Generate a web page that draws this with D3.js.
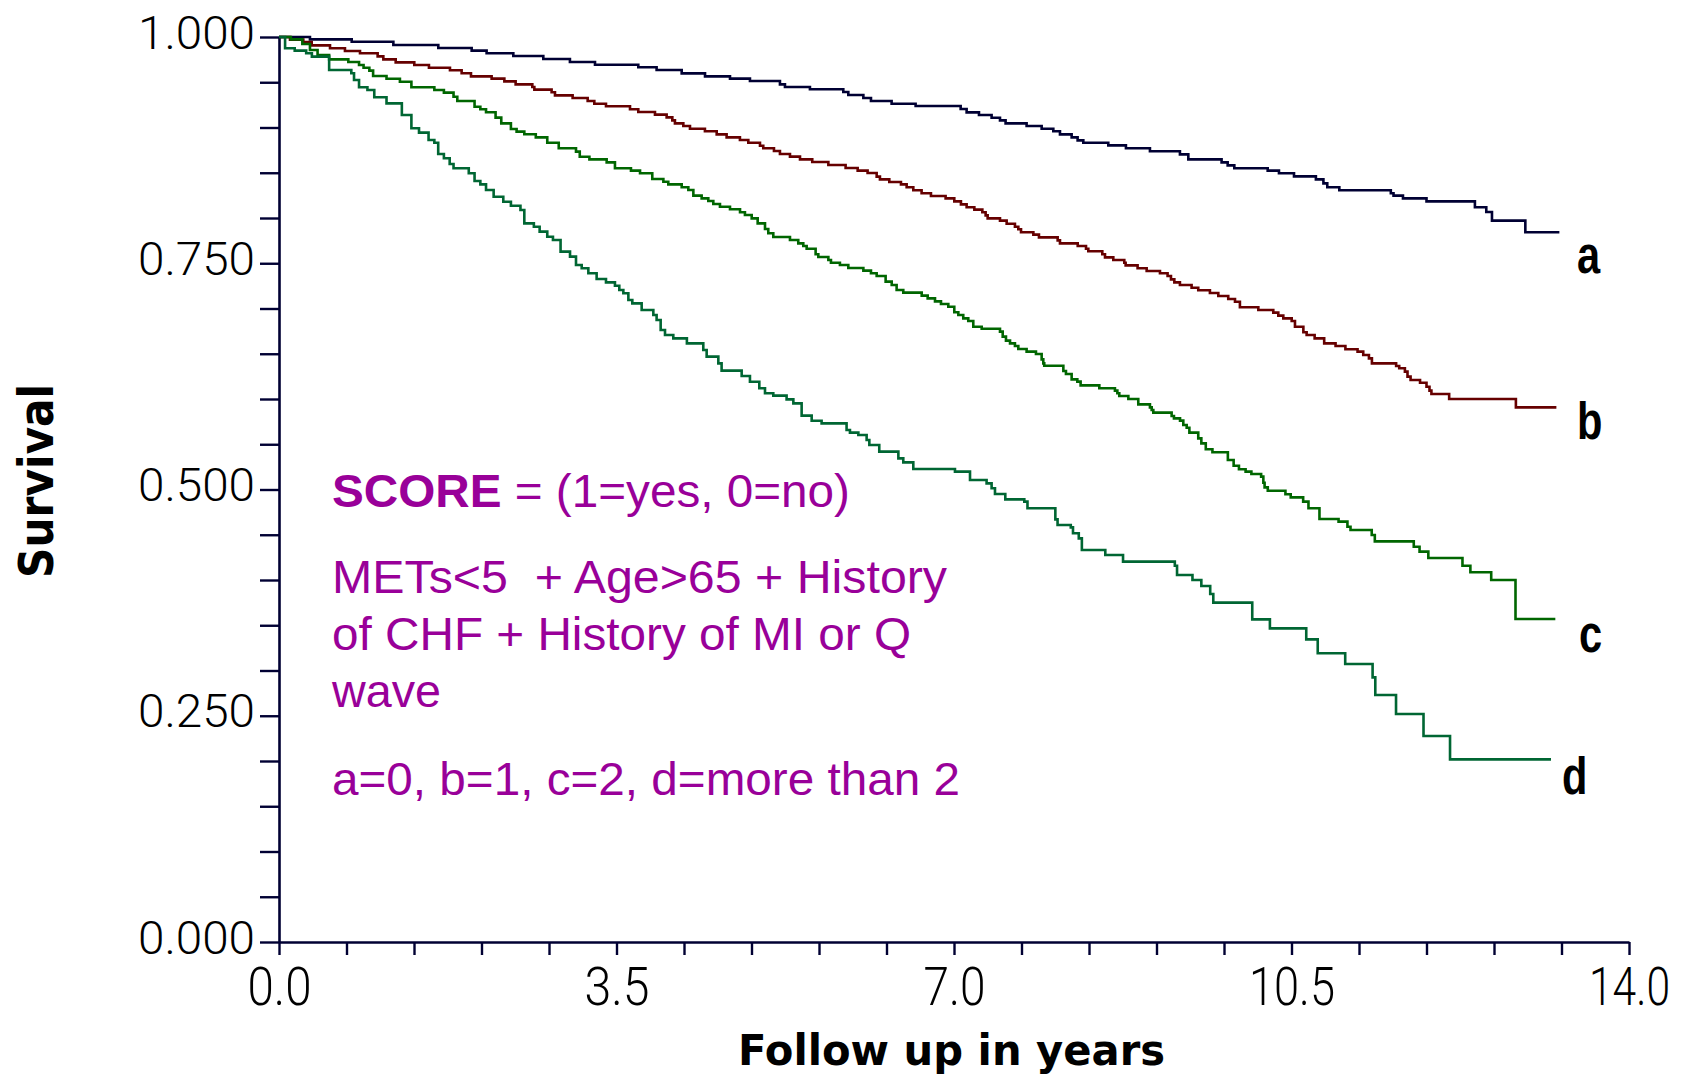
<!DOCTYPE html>
<html>
<head>
<meta charset="utf-8">
<script src="https://cdn.jsdelivr.net/npm/d3@7"></script>
<style>
  html, body { margin: 0; padding: 0; background: #ffffff; }
  svg { display: block; }
</style>
</head>
<body>
<script>
// ---------------- DATA ----------------
// Each entry: [follow-up time in years, survival] ; step function (value holds until next time)
const curveA = [[0,1],[0.321,0.9974],[0.754,0.9948],[1.186,0.9912],[1.652,0.9879],[1.998,0.9849],[2.153,0.9820],[2.430,0.9790],[2.741,0.9757],[3.017,0.9724],[3.277,0.9694],[3.726,0.9665],[3.916,0.9635],[4.176,0.9598],[4.418,0.9565],[4.677,0.9540],[4.884,0.9514],[5.195,0.9477],[5.247,0.9448],[5.506,0.9422],[5.852,0.9392],[5.904,0.9359],[6.060,0.9326],[6.139,0.9293],[6.353,0.9263],[6.602,0.9238],[7.069,0.9204],[7.131,0.9167],[7.259,0.9138],[7.390,0.9108],[7.477,0.9079],[7.535,0.9046],[7.753,0.9017],[7.909,0.8987],[8.030,0.8958],[8.099,0.8924],[8.220,0.8891],[8.282,0.8858],[8.341,0.8832],[8.600,0.8803],[8.783,0.8770],[9.032,0.8737],[9.343,0.8703],[9.430,0.8648],[9.775,0.8615],[9.838,0.8582],[9.907,0.8549],[10.253,0.8523],[10.370,0.8494],[10.526,0.8460],[10.753,0.8427],[10.831,0.8383],[10.871,0.8339],[10.996,0.8306],[11.530,0.8273],[11.558,0.8247],[11.656,0.8217],[11.900,0.8184],[12.402,0.8118],[12.520,0.8066],[12.579,0.7971],[12.925,0.7842],[13.278,0.7842]];

const curveB = [[0,1],[0.114,0.9971],[0.252,0.9945],[0.339,0.9908],[0.529,0.9875],[0.684,0.9845],[0.840,0.9820],[1.023,0.9786],[1.082,0.9753],[1.210,0.9720],[1.403,0.9691],[1.555,0.9661],[1.773,0.9632],[1.894,0.9599],[1.991,0.9565],[2.205,0.9540],[2.337,0.9510],[2.454,0.9477],[2.627,0.9448],[2.648,0.9418],[2.827,0.9389],[2.862,0.9355],[3.045,0.9326],[3.201,0.9293],[3.270,0.9263],[3.391,0.9234],[3.640,0.9201],[3.726,0.9171],[3.899,0.9142],[4.020,0.9112],[4.079,0.9079],[4.106,0.9046],[4.193,0.9017],[4.262,0.8987],[4.417,0.8958],[4.539,0.8924],[4.642,0.8891],[4.780,0.8862],[4.867,0.8832],[4.988,0.8799],[5.022,0.8770],[5.133,0.8740],[5.195,0.8707],[5.299,0.8678],[5.403,0.8648],[5.530,0.8619],[5.697,0.8586],[5.876,0.8552],[6.001,0.8523],[6.104,0.8497],[6.198,0.8457],[6.232,0.8427],[6.329,0.8398],[6.450,0.8372],[6.509,0.8339],[6.578,0.8306],[6.664,0.8273],[6.761,0.8243],[6.913,0.8217],[7.003,0.8184],[7.072,0.8151],[7.131,0.8118],[7.211,0.8092],[7.294,0.8063],[7.328,0.8029],[7.349,0.7996],[7.477,0.7971],[7.546,0.7937],[7.632,0.7904],[7.667,0.7875],[7.695,0.7842],[7.823,0.7816],[7.881,0.7786],[8.075,0.7753],[8.099,0.7720],[8.283,0.7690],[8.369,0.7661],[8.393,0.7632],[8.538,0.7599],[8.566,0.7565],[8.652,0.7536],[8.766,0.7506],[8.780,0.7477],[8.904,0.7444],[8.998,0.7414],[9.136,0.7389],[9.215,0.7359],[9.250,0.7322],[9.285,0.7289],[9.343,0.7260],[9.464,0.7230],[9.533,0.7201],[9.654,0.7171],[9.741,0.7138],[9.844,0.7105],[9.914,0.7075],[9.965,0.7013],[10.156,0.6983],[10.311,0.6954],[10.363,0.6921],[10.415,0.6891],[10.502,0.6862],[10.536,0.6799],[10.623,0.6737],[10.657,0.6707],[10.740,0.6670],[10.839,0.6615],[10.957,0.6586],[11.059,0.6549],[11.185,0.6523],[11.244,0.6486],[11.303,0.6449],[11.334,0.6394],[11.585,0.6365],[11.617,0.6339],[11.676,0.6302],[11.703,0.6247],[11.735,0.6210],[11.833,0.6180],[11.900,0.6136],[11.931,0.6092],[11.951,0.6055],[12.135,0.6000],[12.827,0.5908],[13.247,0.5908]];

const curveC = [[0,1],[0.123,0.9974],[0.242,0.9923],[0.321,0.9856],[0.400,0.9801],[0.520,0.9753],[0.719,0.9724],[0.830,0.9691],[0.877,0.9661],[0.937,0.9628],[0.976,0.9569],[1.115,0.9539],[1.254,0.9506],[1.373,0.9444],[1.611,0.9414],[1.710,0.9385],[1.810,0.9340],[1.849,0.9293],[2.028,0.9230],[2.088,0.9201],[2.147,0.9168],[2.246,0.9109],[2.305,0.9046],[2.405,0.8983],[2.464,0.8954],[2.544,0.8925],[2.663,0.8891],[2.782,0.8832],[2.901,0.8770],[3.080,0.8733],[3.119,0.8677],[3.219,0.8648],[3.398,0.8615],[3.484,0.8549],[3.650,0.8523],[3.744,0.8494],[3.871,0.8431],[3.986,0.8401],[4.037,0.8372],[4.176,0.8339],[4.245,0.8309],[4.297,0.8247],[4.383,0.8217],[4.452,0.8188],[4.504,0.8155],[4.573,0.8125],[4.677,0.8096],[4.781,0.8063],[4.832,0.8033],[4.902,0.7996],[4.964,0.7941],[5.040,0.7878],[5.074,0.7831],[5.126,0.7790],[5.299,0.7757],[5.385,0.7720],[5.437,0.7691],[5.472,0.7661],[5.565,0.7599],[5.593,0.7569],[5.697,0.7536],[5.724,0.7506],[5.817,0.7481],[5.904,0.7447],[6.060,0.7418],[6.139,0.7389],[6.198,0.7359],[6.291,0.7297],[6.354,0.7260],[6.405,0.7204],[6.474,0.7175],[6.665,0.7142],[6.727,0.7112],[6.803,0.7079],[6.865,0.7050],[6.941,0.7020],[7.003,0.6958],[7.045,0.6928],[7.096,0.6891],[7.148,0.6862],[7.200,0.6799],[7.287,0.6777],[7.477,0.6744],[7.505,0.6689],[7.539,0.6645],[7.581,0.6615],[7.632,0.6586],[7.667,0.6552],[7.753,0.6523],[7.850,0.6497],[7.909,0.6438],[7.926,0.6394],[7.936,0.6368],[8.134,0.6309],[8.161,0.6276],[8.220,0.6217],[8.279,0.6192],[8.313,0.6151],[8.507,0.6118],[8.669,0.6092],[8.694,0.6063],[8.714,0.6033],[8.808,0.6000],[8.911,0.5941],[9.032,0.5908],[9.050,0.5878],[9.067,0.5849],[9.257,0.5812],[9.281,0.5786],[9.344,0.5761],[9.378,0.5713],[9.413,0.5683],[9.441,0.5628],[9.533,0.5565],[9.565,0.5510],[9.611,0.5444],[9.680,0.5411],[9.840,0.5326],[9.900,0.5263],[9.955,0.5223],[10.024,0.5197],[10.084,0.5171],[10.185,0.5142],[10.208,0.5075],[10.221,0.5024],[10.254,0.4987],[10.437,0.4947],[10.492,0.4913],[10.621,0.4866],[10.676,0.4792],[10.790,0.4674],[10.988,0.4645],[11.080,0.4589],[11.112,0.4552],[11.332,0.4497],[11.364,0.4427],[11.768,0.4368],[11.828,0.4313],[11.919,0.4243],[12.273,0.4158],[12.355,0.4085],[12.571,0.4000],[12.823,0.3569],[13.236,0.3569]];

const curveD = [[0,1],[0.063,0.9875],[0.163,0.9849],[0.282,0.9820],[0.341,0.9783],[0.520,0.9635],[0.750,0.9599],[0.778,0.9525],[0.830,0.9444],[0.917,0.9414],[0.988,0.9334],[1.115,0.9267],[1.274,0.9138],[1.373,0.8991],[1.452,0.8943],[1.551,0.8862],[1.611,0.8832],[1.651,0.8707],[1.710,0.8660],[1.770,0.8597],[1.810,0.8549],[1.968,0.8494],[2.028,0.8409],[2.088,0.8372],[2.147,0.8309],[2.226,0.8235],[2.326,0.8180],[2.405,0.8136],[2.504,0.8088],[2.544,0.7941],[2.643,0.7904],[2.703,0.7849],[2.782,0.7793],[2.841,0.7757],[2.920,0.7628],[3.018,0.7573],[3.080,0.7481],[3.139,0.7444],[3.208,0.7389],[3.294,0.7326],[3.391,0.7289],[3.484,0.7252],[3.529,0.7204],[3.571,0.7168],[3.623,0.7094],[3.664,0.7057],[3.761,0.6983],[3.882,0.6928],[3.916,0.6873],[3.958,0.6762],[4.003,0.6707],[4.089,0.6670],[4.230,0.6615],[4.400,0.6541],[4.435,0.6468],[4.556,0.6394],[4.590,0.6313],[4.798,0.6254],[4.884,0.6191],[4.981,0.6118],[5.040,0.6063],[5.126,0.6037],[5.264,0.5996],[5.334,0.5952],[5.420,0.5816],[5.524,0.5760],[5.627,0.5731],[5.886,0.5657],[5.921,0.5628],[6.008,0.5602],[6.094,0.5547],[6.122,0.5492],[6.225,0.5418],[6.423,0.5344],[6.474,0.5300],[6.578,0.5226],[7.010,0.5197],[7.166,0.5105],[7.338,0.5068],[7.390,0.5013],[7.425,0.4950],[7.532,0.4891],[7.729,0.4866],[7.762,0.4792],[8.051,0.4670],[8.074,0.4608],[8.211,0.4582],[8.234,0.4516],[8.294,0.4460],[8.326,0.4331],[8.569,0.4276],[8.753,0.4203],[9.290,0.4158],[9.313,0.4055],[9.473,0.4000],[9.565,0.3934],[9.657,0.3845],[9.689,0.3750],[10.093,0.3565],[10.276,0.3466],[10.653,0.3344],[10.772,0.3190],[11.057,0.3072],[11.341,0.2924],[11.369,0.2729],[11.584,0.2519],[11.869,0.2276],[12.144,0.2018],[13.191,0.2018]];

const seriesNames = ["a", "b", "c", "d"];
const seriesData = [curveA, curveB, curveC, curveD];

const yTickValues = d3.range(21).map(i => i / 20);          // 0.00 .. 1.00 step 0.05
const yTickLabels = ["0.000", "0.250", "0.500", "0.750", "1.000"];
const xTickValues = d3.range(21).map(i => i * 0.7);          // 0.0 .. 14.0 step 0.7
const xTickLabels = ["0.0", "3.5", "7.0", "10.5", "14.0"];

const xTitle = "Follow up in years";
const yTitle = "Survival";
const noteLines = [
  ["SCORE", " = (1=yes, 0=no)"],
  ["", "METs<5  + Age>65 + History"],
  ["", "of CHF + History of MI or Q"],
  ["", "wave"],
  ["", "a=0, b=1, c=2, d=more than 2"]
];

// ---------------- STYLES / LAYOUT ----------------
const W = 1694, H = 1078;
const seriesColors = ["#000033", "#660000", "#006600", "#006633"];
const axisColor = "#000033";
const noteColor = "#990099";

const svg = d3.select("body").append("svg").attr("width", W).attr("height", H);
svg.append("rect").attr("width", W).attr("height", H).attr("fill", "#fff");

const x = d3.scaleLinear().domain([0, 14]).range([279, 1629]);
const y = d3.scaleLinear().domain([0, 1]).range([942, 37]);

// ---- Y axis ----
const yAxis = d3.axisLeft(y)
  .tickValues(yTickValues)
  .tickSize(19)
  .tickSizeOuter(0)
  .tickFormat((d, i) => (i % 5 === 0 ? yTickLabels[i / 5] : ""));
const gy = svg.append("g").attr("transform", `translate(${x(0)},0)`).call(yAxis);
gy.select(".domain").attr("stroke", axisColor).attr("stroke-width", 2.6);
gy.selectAll(".tick line").attr("stroke", axisColor).attr("stroke-width", 2.4);
gy.selectAll(".tick text")
  .attr("x", -24).attr("dy", null).attr("y", 11)
  .attr("fill", "#000")
  .style("font-family", "Roboto, 'Open Sans', sans-serif")
  .style("font-weight", 300)
  .style("font-size", "46px")
  .each(function(d, i) { if (i % 5 === 0) d3.select(this).attr("textLength", 117).attr("lengthAdjust", "spacingAndGlyphs"); });

// ---- X axis ----
const xLabelWidths = [64, 65, 62, 86, 81];
const xAxis = d3.axisBottom(x)
  .tickValues(xTickValues)
  .tickSize(13)
  .tickSizeOuter(0)
  .tickFormat((d, i) => (i % 5 === 0 ? xTickLabels[i / 5] : ""));
const gx = svg.append("g").attr("transform", `translate(0,${y(0)})`).call(xAxis);
gx.select(".domain").attr("stroke", axisColor).attr("stroke-width", 2.6);
gx.selectAll(".tick line").attr("stroke", axisColor).attr("stroke-width", 2.4);
gx.selectAll(".tick text")
  .attr("y", 63).attr("dy", null)
  .attr("fill", "#000")
  .style("font-family", "Roboto, 'Open Sans', sans-serif")
  .style("font-weight", 300)
  .style("font-size", "53px")
  .each(function(d, i) { if (i % 5 === 0) d3.select(this).attr("textLength", xLabelWidths[i / 5]).attr("lengthAdjust", "spacingAndGlyphs"); });

// ---- Axis titles ----
svg.append("text")
  .attr("x", 738).attr("y", 1065)
  .attr("textLength", 427).attr("lengthAdjust", "spacingAndGlyphs")
  .style("font-family", "'DejaVu Sans', sans-serif")
  .style("font-weight", "bold")
  .style("font-size", "42px")
  .attr("fill", "#000")
  .text(xTitle);

svg.append("text")
  .attr("transform", "translate(53,481) rotate(-90)")
  .attr("text-anchor", "middle")
  .attr("textLength", 194).attr("lengthAdjust", "spacingAndGlyphs")
  .style("font-family", "'DejaVu Sans', sans-serif")
  .style("font-weight", "bold")
  .style("font-size", "48px")
  .attr("fill", "#000")
  .text(yTitle);

// ---- Survival curves ----
const line = d3.line()
  .x(d => x(d[0]))
  .y(d => y(d[1]))
  .curve(d3.curveStepAfter);

svg.append("g").selectAll("path")
  .data(seriesData)
  .join("path")
  .attr("d", d => line(d))
  .attr("fill", "none")
  .attr("stroke", (d, i) => seriesColors[i])
  .attr("stroke-width", 2.6)
  .attr("stroke-linejoin", "miter");

// ---- Curve labels a b c d ----
const labelPos = [[1577, 273], [1577, 439], [1579, 652], [1562, 794]];
svg.append("g").selectAll("text")
  .data(seriesNames)
  .join("text")
  .attr("transform", (d, i) => `translate(${labelPos[i][0]},${labelPos[i][1]}) scale(0.8,1)`)
  .style("font-family", "'Liberation Sans', Arial, sans-serif")
  .style("font-weight", "bold")
  .style("font-size", "52px")
  .attr("fill", "#000")
  .text(d => d);

// ---- Annotation ----
const noteBaselines = [507, 593, 650, 707, 795];
const noteWidths = [518, 615, 579, 109, 628];
const note = svg.append("g")
  .style("font-family", "'Liberation Sans', Arial, sans-serif")
  .style("font-size", "47px")
  .attr("fill", noteColor);
noteLines.forEach((parts, i) => {
  const t = note.append("text")
    .attr("x", 332).attr("y", noteBaselines[i])
    .attr("xml:space", "preserve")
    .style("white-space", "pre")
    .attr("textLength", noteWidths[i]).attr("lengthAdjust", "spacingAndGlyphs");
  if (parts[0]) t.append("tspan").style("font-weight", "bold").text(parts[0]);
  t.append("tspan").text(parts[1]);
});
</script>
</body>
</html>
